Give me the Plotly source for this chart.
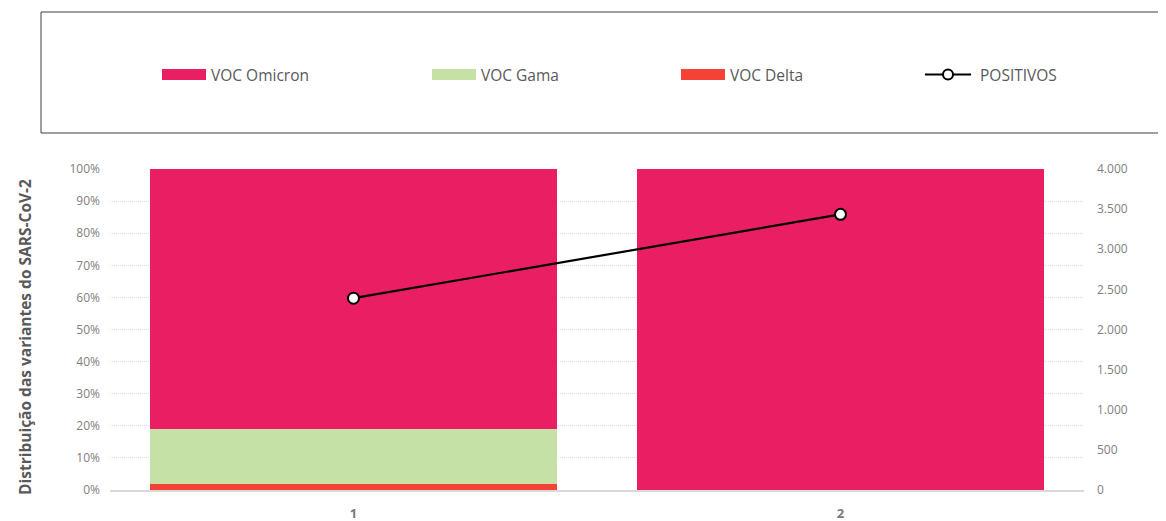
import plotly.graph_objects as go

# data
semanas = ['1', '2']
voc_delta = [0.019, 0.0]
voc_gama = [0.172, 0.0]
voc_omicron = [0.809, 1.0]
positivos = [2390, 3435]

series = ['VOC Omicron', 'VOC Gama', 'VOC Delta', 'POSITIVOS']
cores = {'VOC Omicron': '#E91E63', 'VOC Gama': '#C5E1A5', 'VOC Delta': '#F44336'}

FONT = 'Open Sans'

fig = go.Figure()
fig.add_bar(x=semanas, y=voc_delta, name='VOC Delta', marker=dict(color=cores['VOC Delta'], line_width=0))
fig.add_bar(x=semanas, y=voc_gama, name='VOC Gama', marker=dict(color=cores['VOC Gama'], line_width=0))
fig.add_bar(x=semanas, y=voc_omicron, name='VOC Omicron', marker=dict(color=cores['VOC Omicron'], line_width=0))
fig.add_scatter(
    x=semanas, y=positivos, name='POSITIVOS', yaxis='y2', mode='lines+markers',
    line=dict(color='black', width=2.2),
    marker=dict(size=11, color='white', line=dict(color='black', width=2)),
)

# the page body adds an 8px offset, so the figure is 8px smaller
fig.update_layout(
    width=1158, height=513,
    margin=dict(l=102, r=82, t=161, b=31),
    plot_bgcolor='white', paper_bgcolor='white',
    barmode='stack', bargap=0.166,
    showlegend=False,
    separators=',.',
    font=dict(family=FONT, size=11, color='#808080'),
    xaxis=dict(
        type='category', showgrid=False, showline=True, linecolor='#d9d9d9', linewidth=1.5,
        tickfont=dict(size=13, color='#7a7a7a', weight='bold'), ticklabelstandoff=11,
        automargin=False,
    ),
    yaxis=dict(
        range=[0, 1], dtick=0.1, tickformat='.0%', showgrid=True,
        gridcolor='#dedede', griddash='1px,1px', gridwidth=1, zeroline=False,
        ticklabelstandoff=9, tickfont=dict(size=12, color='#808080'), automargin=False,
    ),
    yaxis2=dict(
        overlaying='y', side='right', range=[0, 4000], dtick=500, tickformat=',.0f',
        showgrid=False, zeroline=False, ticklabelstandoff=12,
        tickfont=dict(size=12, color='#808080'), automargin=False,
    ),
)


# helpers: page pixel -> paper coords (plot area spans 110..1084 x, 169..490 y)
def px_x(px):
    return (px - 110) / 974


def px_y(py):
    return (490 - py) / 321


# y-axis title
fig.add_annotation(
    xref='paper', yref='paper', x=px_x(25), y=px_y(337), text='Distribuição das variantes do SARS-CoV-2',
    textangle=-90, showarrow=False, xanchor='center', yanchor='middle',
    font=dict(family=FONT, size=15.5, color='#595959', weight='bold'),
)

# legend drawn as a boxed row, Excel style
fig.add_shape(type='rect', xref='paper', yref='paper',
              x0=px_x(41), x1=px_x(1180), y0=px_y(133), y1=px_y(12),
              line=dict(color='#404040', width=1), fillcolor='white', layer='below')

legend_pos = {'VOC Omicron': 162, 'VOC Gama': 432, 'VOC Delta': 681, 'POSITIVOS': 925}
ly = px_y(74.5)
for nome in series:
    x0 = legend_pos[nome]
    if nome in cores:
        fig.add_shape(type='rect', xref='paper', yref='paper',
                      x0=px_x(x0), x1=px_x(x0 + 44), y0=px_y(80), y1=px_y(69),
                      line_width=0, fillcolor=cores[nome])
        tx = x0 + 47
    else:
        fig.add_shape(type='line', xref='paper', yref='paper',
                      x0=px_x(x0), x1=px_x(x0 + 46), y0=ly, y1=ly,
                      line=dict(color='black', width=2.2))
        fig.add_shape(type='circle', xref='paper', yref='paper',
                      x0=px_x(x0 + 18), x1=px_x(x0 + 28), y0=px_y(79.5), y1=px_y(69.5),
                      line=dict(color='black', width=2), fillcolor='white')
        tx = x0 + 53
    fig.add_annotation(xref='paper', yref='paper', x=px_x(tx), y=ly, xanchor='left', yanchor='middle',
                       text=nome, showarrow=False,
                       font=dict(family=FONT, size=15.5, color='#595959'))

fig.write_html('out.html')
